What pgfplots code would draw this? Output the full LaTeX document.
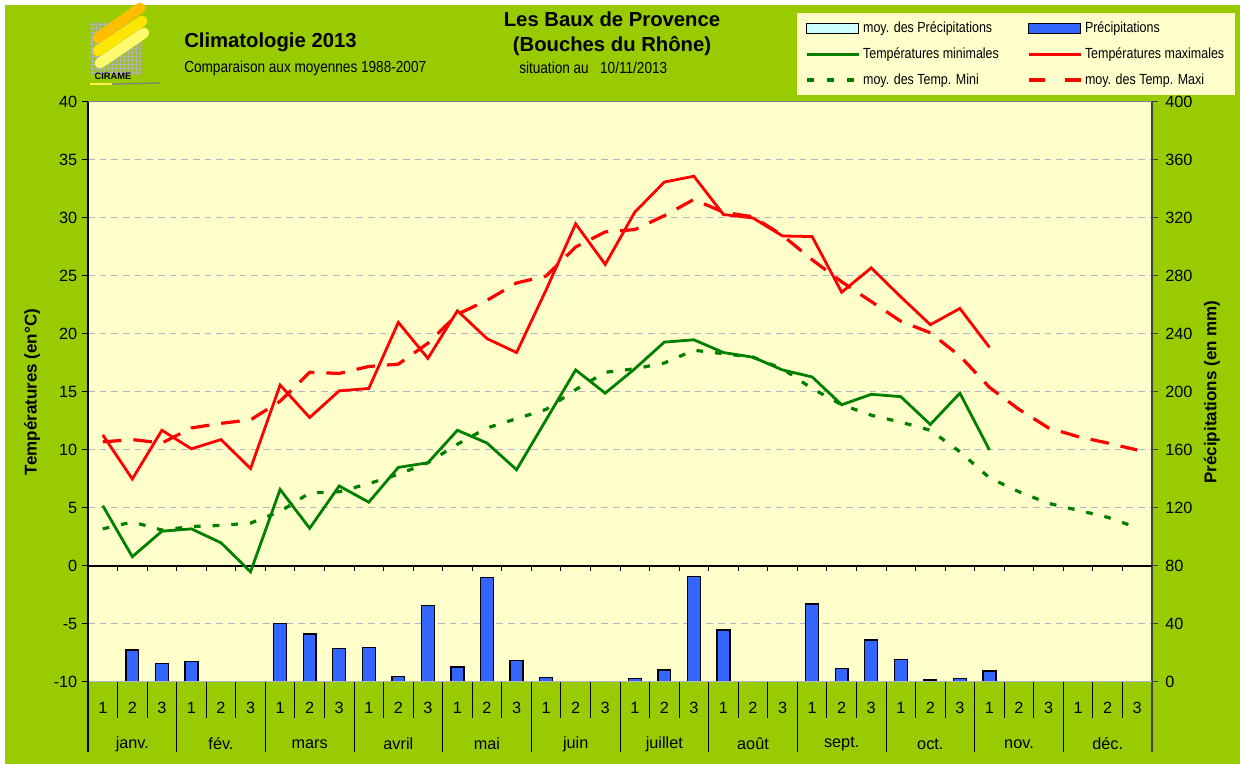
\documentclass[border=0pt]{standalone}
\usepackage{pgfplots}
\usepackage{pgfplotstable}
\pgfplotsset{compat=1.18}
\usepackage{fontspec}
\setmainfont{Liberation Sans}
\newfontfamily\narrow[FakeStretch=0.85]{Liberation Sans}
\definecolor{bggreen}{RGB}{153,204,0}
\definecolor{plotbg}{RGB}{255,255,204}
\definecolor{barblue}{RGB}{51,102,255}
\definecolor{tgreen}{RGB}{0,128,0}
\definecolor{precmoy}{RGB}{204,255,255}
\definecolor{gridc}{RGB}{180,180,200}
\definecolor{darkline}{RGB}{64,64,64}
\newcommand\ticksize{\fontsize{12.2}{14}\selectfont}
\newcommand\labsize{\bfseries\fontsize{12.75}{14}\selectfont}
\pgfplotsset{
  barlegend/.style={legend image code/.code={\draw[##1] (0pt,-3.6pt) rectangle (39pt,3.6pt);}},
  linelegend/.style={legend image code/.code={\draw[##1] (0pt,0pt) -- (39pt,0pt);}},
}

\pgfplotstableread{
i  tmax  tmin  mtmax mtmin prec
0  11.3  5.2   10.7  3.2   0
1  7.5   0.8   10.9  3.8   22.1
2  11.7  3.0   10.6  3.1   12.9
3  10.1  3.2   11.9  3.4   14.0
4  10.9  2.0   12.3  3.5   0
5  8.4   -0.5  12.6  3.7   0
6  15.6  6.6   14.2  4.7   40.5
7  12.8  3.25  16.7  6.3   33.1
8  15.1  6.9   16.6  6.4   23.2
9  15.3  5.5   17.2  7.1   23.7
10 21.0  8.5   17.4  7.9   3.7
11 17.9  8.9   19.2  8.9   52.6
12 22.0  11.7  21.7  10.5  10.3
13 19.6  10.6  22.9  11.9  72.2
14 18.4  8.3   24.4  12.7  14.7
15 23.8  12.6  25.0  13.5  3.2
16 29.5  16.9  27.5  15.2  0
17 26.0  14.9  28.8  16.7  0
18 30.5  17.0  29.0  17.0  2.3
19 33.1  19.3  30.2  17.5  8.3
20 33.6  19.5  31.6  18.6  72.6
21 30.3  18.4  30.5  18.3  35.9
22 30.0  18.0  30.1  18.0  0
23 28.45 16.9  28.5  17.0  0
24 28.4  16.3  26.4  15.3  53.8
25 23.6  13.9  24.5  13.9  9.4
26 25.7  14.8  22.8  13.0  29.0
27 23.2  14.6  21.1  12.4  15.6
28 20.8  12.2  20.1  11.7  1.4
29 22.2  14.9  18.1  9.85  2.5
30 18.85 10.0  15.4  7.6   7.6
31 nan   nan   13.5  6.4   0
32 nan   nan   11.9  5.4   0
33 nan   nan   11.15 4.8   0
34 nan   nan   10.6  4.2   0
35 nan   nan   10.0  3.3   0
}\data

\begin{document}
\begin{tikzpicture}
\begin{scope}[x=0.75pt,y=0.75pt]
\fill[white] (0,0) rectangle (1240,764);
\fill[bggreen] (5,0) rectangle (1240,759);
\useasboundingbox (0,0) rectangle (1240,764);

% logo (simplified)
\begin{scope}
\clip (90,689) rectangle (141,742);
\draw[gray!60, line width=0.6pt, step=4] (90,689) grid (141,742);
\end{scope}
\draw[line width=8pt, line cap=round, color={rgb,255:red,255;green,190;blue,0}] (98,726) -- (140,756);
\draw[line width=8pt, line cap=round, color={rgb,255:red,255;green,230;blue,0}] (98,713) -- (142,743);
\draw[line width=8pt, line cap=round, color={rgb,255:red,255;green,250;blue,110}] (100,701) -- (144,731);
\node[font=\bfseries\fontsize{7}{8}\selectfont, inner sep=0pt] at (113,688) {CIRAME};
\draw[line width=2pt, color={rgb,255:red,255;green,240;blue,80}] (90,680) -- (112,680);
\draw[line width=1pt, gray] (112,680) -- (160,681);

% titles
\node[anchor=base west, inner sep=0pt, font=\bfseries\fontsize{15.2}{17}\selectfont] at (184,716) {Climatologie 2013};
\node[anchor=base west, inner sep=0pt, font=\narrow\fontsize{12}{14}\selectfont] at (184,691) {Comparaison aux moyennes 1988-2007};
\node[anchor=base, inner sep=0pt, font=\bfseries\fontsize{15.2}{17}\selectfont] at (612,737) {Les Baux de Provence};
\node[anchor=base, inner sep=0pt, font=\bfseries\fontsize{15.2}{17}\selectfont] at (612,712) {(Bouches du Rhône)};
\node[anchor=base west, inner sep=0pt, font=\narrow\fontsize{12}{14}\selectfont] at (519,690) {situation au \ \ 10/11/2013};
\end{scope}

% precipitation axis (right)
\begin{axis}[
  at={(66pt,61.5pt)}, anchor=south west, scale only axis,
  width=798pt, height=435pt,
  xmin=-0.5, xmax=35.5, ymin=0, ymax=400,
  axis background/.style={fill=plotbg},
  axis x line=none, axis y line*=right,
  y axis line style={draw=darkline, line width=1.5pt},
  ytick={0,40,...,400},
  ymajorgrids, major grid style={gridc, dash pattern=on 5pt off 3.75pt, line width=0.75pt},
  tick align=outside, major tick length=4.5pt,
  ytick style={darkline, line width=0.75pt},
  yticklabel style={font=\ticksize, xshift=2pt},
  /pgf/number format/assume math mode=true,
  ylabel={Précipitations (en mm)},
  every axis y label/.style={at={(axis description cs:1.0564,0.5)}, rotate=90, anchor=center, font=\labsize},
]
\addplot[ybar, bar width=9.6pt, fill=barblue, draw=black, line width=1pt] table[x=i, y=prec] {\data};
\addplot[black, line width=1.6pt, mark=none] coordinates {(0,0) (35,0)};
\end{axis}

% temperature axis (left)
\begin{axis}[
  at={(66pt,61.5pt)}, anchor=south west, scale only axis,
  width=798pt, height=435pt,
  xmin=-0.5, xmax=35.5, ymin=-10, ymax=40,
  clip=false,
  axis y line*=left, axis x line*=bottom,
  x axis line style={gridc, line width=0.75pt},
  y axis line style={black, line width=1.1pt},
  ytick={-10,-5,...,40},
  ytick style={black, line width=0.75pt},
  tick align=outside, major tick length=4.5pt,
  yticklabel style={font=\ticksize},
  /pgf/number format/assume math mode=true,
  xtick={0,...,35},
  xticklabels={1,2,3,1,2,3,1,2,3,1,2,3,1,2,3,1,2,3,1,2,3,1,2,3,1,2,3,1,2,3,1,2,3,1,2,3},
  xtick style={draw=none},
  xticklabel style={font=\ticksize, anchor=center, yshift=-15pt},
  extra x ticks={1,4,...,34},
  extra x tick labels={janv.,fév.,mars,avril,mai,juin,juillet,août,sept.,oct.,nov.,déc.},
  extra x tick style={grid=none, xtick style={draw=none}, xticklabel style={yshift=-27pt}},
  ylabel={Températures (en°C)},
  every axis y label/.style={at={(axis description cs:-0.0526,0.5)}, rotate=90, anchor=center, font=\labsize},
  legend columns=2,
  legend cell align=left,
  linelegend,
  legend style={at={(axis description cs:0.66635,1.15345)}, anchor=north west,
    fill=plotbg, draw=none, font=\narrow\fontsize{11}{13}\selectfont,
    inner xsep=6pt, inner ysep=4.5pt, row sep=5.8pt,
    /tikz/every even column/.append style={column sep=0pt}},
]
% top border and zero line
\draw[gray, line width=0.75pt] (rel axis cs:0,1) -- (rel axis cs:1,1);
\draw[black, line width=1pt] (axis cs:-0.5,0) -- (axis cs:35.5,0);
\pgfplotsinvokeforeach{0.5,1.5,...,34.5}{\draw[black, line width=0.75pt] (axis cs:#1,0) -- ++(0pt,-3.75pt);}
% category separators
\pgfplotsinvokeforeach{0.5,1.5,...,34.5}{\draw[black, line width=0.6pt] (axis cs:#1,-10) -- ++(0pt,-27pt);}
\pgfplotsinvokeforeach{2.5,5.5,...,32.5}{\draw[black, line width=0.6pt] (axis cs:#1,-10) -- ++(0pt,-52.5pt);}
\draw[black, line width=1.1pt] (axis cs:-0.5,-10) -- ++(0pt,-52.5pt);
\draw[darkline, line width=1.5pt] (axis cs:35.5,-10) -- ++(0pt,-52.5pt);

\addplot[red, line width=2.4pt, dash pattern=on 14pt off 9pt, forget plot] table[x=i, y=mtmax] {\data};
\addplot[tgreen, line width=2.4pt, dash pattern=on 5pt off 9pt, forget plot] table[x=i, y=mtmin] {\data};
\addplot[tgreen, line width=2.1pt, forget plot] table[x=i, y=tmin] {\data};
\addplot[red, line width=2.1pt, forget plot] table[x=i, y=tmax] {\data};

\addlegendimage{barlegend, fill=precmoy, draw=black, line width=0.9pt}
\addlegendentry{\makebox[121pt][l]{moy. des Précipitations}}
\addlegendimage{barlegend, fill=barblue, draw=black, line width=0.9pt}
\addlegendentry{Précipitations}
\addlegendimage{linelegend, tgreen, line width=2.1pt}
\addlegendentry{\makebox[121pt][l]{Températures minimales}}
\addlegendimage{linelegend, red, line width=2.1pt}
\addlegendentry{Températures maximales}
\addlegendimage{linelegend, tgreen, line width=2.4pt, dash pattern=on 5pt off 10pt}
\addlegendentry{\makebox[121pt][l]{moy. des Temp. Mini}}
\addlegendimage{linelegend, red, line width=2.4pt, dash pattern=on 12pt off 15pt}
\addlegendentry{moy. des Temp. Maxi}
\end{axis}
\end{tikzpicture}
\end{document}
